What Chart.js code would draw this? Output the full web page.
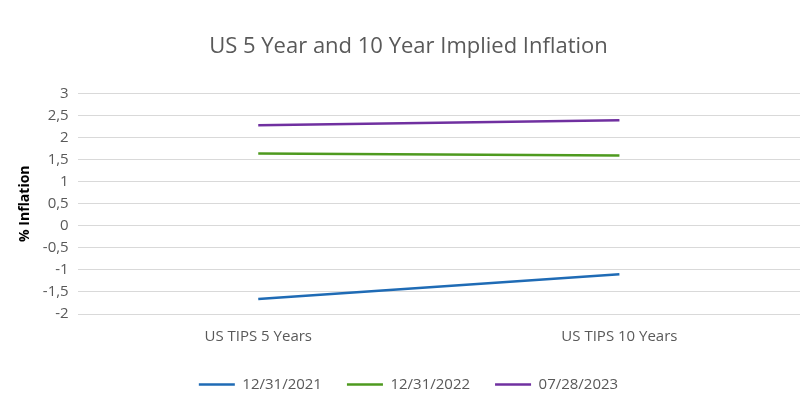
<!DOCTYPE html>
<html>
<head>
<meta charset="utf-8">
<script src="https://cdn.jsdelivr.net/npm/chart.js@4"></script>
<style>
  body { margin: 0; background: #fff; }
  #wrap { width: 800px; height: 410px; }
</style>
</head>
<body>
<div id="wrap"><canvas id="chart"></canvas></div>
<script>
// Categorias y series
const categories = ["US TIPS 5 Years", "US TIPS 10 Years"];
const seriesNames = ["12/31/2021", "12/31/2022", "07/28/2023"];
const values2021 = [-1.66, -1.1];
const values2022 = [1.64, 1.59];
const values2023 = [2.28, 2.39];
const seriesColors = ["#1f6bb5", "#4e9a1f", "#7030a0"];

const fontFamily = "'Open Sans', 'Liberation Sans', sans-serif";

new Chart(document.getElementById("chart"), {
  type: "line",
  data: {
    labels: categories,
    datasets: [values2021, values2022, values2023].map((vals, i) => ({
      label: seriesNames[i],
      data: vals,
      borderColor: seriesColors[i],
      backgroundColor: seriesColors[i],
      borderWidth: 2.5,
      pointRadius: 0,
      pointStyle: "line",
      tension: 0,
    })),
  },
  options: {
    responsive: true,
    maintainAspectRatio: false,
    animation: false,
    layout: { padding: { left: 17, right: 0, top: 21, bottom: 8 } },
    plugins: {
      title: {
        display: true,
        text: "US 5 Year and 10 Year Implied Inflation",
        color: "#595959",
        font: { family: fontFamily, size: 22, weight: "normal" },
        padding: { top: 13, bottom: 33 },
      },
      legend: {
        position: "bottom",
        labels: {
          color: "#595959",
          font: { family: fontFamily, size: 15 },
          usePointStyle: true,
          pointStyle: "line",
          pointStyleWidth: 36,
          padding: 25,
        },
      },
      tooltip: { enabled: false },
    },
    scales: {
      x: {
        offset: true,
        grid: { display: false },
        border: { display: false },
        ticks: {
          color: "#595959",
          font: { family: fontFamily, size: 15 },
          padding: 6,
        },
      },
      y: {
        min: -2,
        max: 3,
        ticks: {
          stepSize: 0.5,
          color: "#595959",
          font: { family: fontFamily, size: 15 },
          padding: 9,
          callback: (v) => String(v).replace(".", ","),
        },
        grid: { color: "#d9d9d9", drawTicks: false },
        border: { display: false },
        title: {
          display: true,
          text: "% Inflation",
          color: "#000",
          padding: 0,
          font: { family: fontFamily, size: 14, weight: "bold" },
        },
      },
    },
  },
});
</script>
</body>
</html>
